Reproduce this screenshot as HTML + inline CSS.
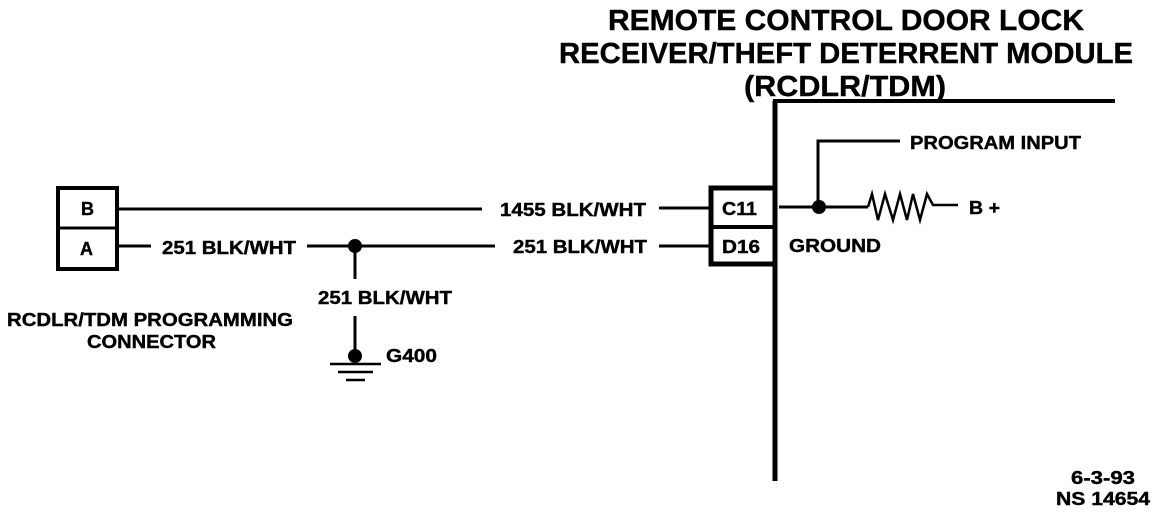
<!DOCTYPE html>
<html><head><meta charset="utf-8"><style>
html,body{margin:0;padding:0;background:#fff}
svg{display:block}
text{font-family:"Liberation Sans",sans-serif;font-weight:bold;fill:#000;stroke:#000;stroke-width:.4}
</style></head><body>
<svg width="1168" height="514" viewBox="0 0 1168 514" xmlns="http://www.w3.org/2000/svg">
<g text-anchor="middle">
<text x="846" y="30" font-size="29" textLength="476" lengthAdjust="spacingAndGlyphs">REMOTE CONTROL DOOR LOCK</text>
<text x="846" y="63" font-size="29" textLength="574" lengthAdjust="spacingAndGlyphs">RECEIVER/THEFT DETERRENT MODULE</text>
<text x="845" y="96" font-size="29" textLength="202" lengthAdjust="spacingAndGlyphs">(RCDLR/TDM)</text>
</g>
<g fill="none" stroke="#000">
<path d="M775 481V101" stroke-width="5"/>
<path d="M773 101H1115" stroke-width="4"/>
<rect x="58" y="188" width="59" height="81" stroke-width="4"/>
<path d="M58 228H117" stroke-width="3"/>
<rect x="711" y="188" width="64" height="76" stroke-width="5"/>
<path d="M711 227H775" stroke-width="4"/>
<g stroke-width="3">
<path d="M117 209H482M659 208H711"/>
<path d="M117 246H151M307 246H495M659 246H711"/>
<path d="M355 246V279M355 316V357"/>
<path d="M779 207H868M818 207V141H900"/>
<path d="M868 207L872 194L878 220L885 194L893 220L900 194L907 220L913 194L920 220L927 194L933 205H958" stroke-width="2.5"/>
<path d="M330 364H381" stroke-width="2.5"/>
<path d="M338 372H373" stroke-width="2.5"/>
<path d="M346 380H365" stroke-width="2.5"/>
</g></g>
<circle cx="355" cy="246" r="7"/>
<circle cx="355" cy="356" r="7"/>
<circle cx="819" cy="207" r="7"/>
<g font-size="18">
<text x="81" y="215" font-size="18">B</text>
<text x="80" y="255" font-size="18">A</text>
<text x="500" y="216" textLength="146" lengthAdjust="spacingAndGlyphs">1455 BLK/WHT</text>
<text x="162" y="254" textLength="134" lengthAdjust="spacingAndGlyphs">251 BLK/WHT</text>
<text x="513" y="253" textLength="134" lengthAdjust="spacingAndGlyphs">251 BLK/WHT</text>
<text x="318" y="304" textLength="134" lengthAdjust="spacingAndGlyphs">251 BLK/WHT</text>
<text x="386" y="362" textLength="51" lengthAdjust="spacingAndGlyphs">G400</text>
<text x="7" y="326" textLength="286" lengthAdjust="spacingAndGlyphs">RCDLR/TDM PROGRAMMING</text>
<text x="87" y="348" textLength="129" lengthAdjust="spacingAndGlyphs">CONNECTOR</text>
<text x="722" y="215" textLength="35" lengthAdjust="spacingAndGlyphs">C11</text>
<text x="722" y="253" textLength="38" lengthAdjust="spacingAndGlyphs">D16</text>
<text x="789" y="252" textLength="92" lengthAdjust="spacingAndGlyphs">GROUND</text>
<text x="910" y="149" textLength="171" lengthAdjust="spacingAndGlyphs">PROGRAM INPUT</text>
<text x="969" y="214" textLength="31" lengthAdjust="spacingAndGlyphs">B +</text>
<text x="1071" y="484" textLength="64" lengthAdjust="spacingAndGlyphs">6-3-93</text>
<text x="1056" y="505" textLength="94" lengthAdjust="spacingAndGlyphs">NS 14654</text>
</g>
</svg>
</body></html>
